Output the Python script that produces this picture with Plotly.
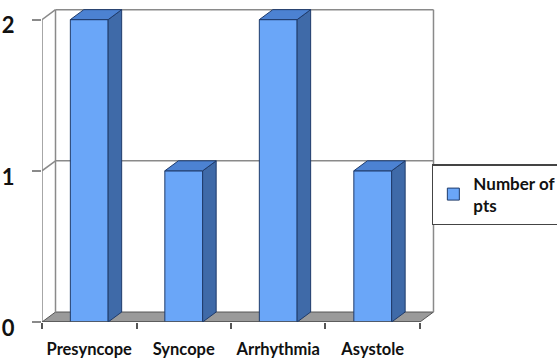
import plotly.graph_objects as go

categories = ["Presyncope", "Syncope", "Arrhythmia", "Asystole"]
values = [2, 1, 2, 1]
series_name = "Number of<br>pts"
y_ticks = [0, 1, 2]

# pseudo-3D depth (axis units) and style
DX = 0.143
DY = 0.066
BW = 0.4
FRONT = "#6aa6f8"
TOP = "#4c82d2"
SIDE = "#3f6aa8"
EDGE = "#1f3b6b"
LINE = "#8a8a8a"
FLOOR = "#9a9a9a"

n = len(categories)
xs = list(range(n))
x0, x1 = -0.5, n - 0.5
ymax = max(y_ticks)

fig = go.Figure()
fig.add_trace(go.Bar(
    x=xs, y=values, width=BW, name=series_name,
    marker=dict(color=FRONT, line=dict(color=EDGE, width=1)),
    showlegend=True,
))

shapes = []
# floor
shapes.append(dict(type="path", layer="below",
                   path=f"M {x0},0 L {x1},0 L {x1+DX},{DY} L {x0+DX},{DY} Z",
                   fillcolor=FLOOR, line=dict(color="#555555", width=1)))
# back wall verticals
for xv in (x0 + DX, x1 + DX):
    shapes.append(dict(type="line", layer="below", x0=xv, x1=xv, y0=DY, y1=ymax + DY,
                       line=dict(color=LINE, width=1.5)))
# gridlines on back wall + connectors
for t in y_ticks[1:]:
    shapes.append(dict(type="line", layer="below", x0=x0 + DX, x1=x1 + DX, y0=t + DY, y1=t + DY,
                       line=dict(color=LINE, width=1.5)))
    shapes.append(dict(type="line", layer="below", x0=x0, x1=x0 + DX, y0=t, y1=t + DY,
                       line=dict(color=LINE, width=1.5)))
# front axes
shapes.append(dict(type="line", layer="below", x0=x0, x1=x0, y0=0, y1=ymax,
                   line=dict(color=LINE, width=1.5)))
shapes.append(dict(type="line", layer="above", x0=x0, x1=x1, y0=0, y1=0,
                   line=dict(color="#555555", width=1.5)))
# bar side and top faces
for i, v in zip(xs, values):
    l, r = i - BW / 2, i + BW / 2
    shapes.append(dict(type="path", layer="above",
                       path=f"M {r},0 L {r+DX},{DY} L {r+DX},{v+DY} L {r},{v} Z",
                       fillcolor=SIDE, line=dict(color=EDGE, width=1)))
    shapes.append(dict(type="path", layer="above",
                       path=f"M {l},{v} L {r},{v} L {r+DX},{v+DY} L {l+DX},{v+DY} Z",
                       fillcolor=TOP, line=dict(color=EDGE, width=1)))

fig.update_layout(
    template="none",
    width=557, height=361,
    margin=dict(l=42, r=0, t=6, b=39, autoexpand=False),
    paper_bgcolor="white", plot_bgcolor="white",
    shapes=shapes,
    showlegend=True,
    legend=dict(xref="paper", yref="paper", x=0.757, y=0.5,
                xanchor="left", yanchor="top",
                bordercolor="#444444", borderwidth=1.5, bgcolor="white",
                font=dict(family="Lato", size=17, color="#111111", weight="bold"),
                itemwidth=30),
    xaxis=dict(range=[x0, 4.95], tickvals=xs, ticktext=categories,
               showgrid=False, zeroline=False, showline=False, ticks="",
               automargin=False,
               ticklabelstandoff=15, ticklabeloverflow="allow",
               tickfont=dict(family="Lato", size=16.5, color="#111111", weight="bold"),
               minor=dict(tickmode="array", tickvals=[k - 0.5 for k in range(n + 1)],
                          ticks="outside", ticklen=6, tickcolor="#555555", tickwidth=1.5,
                          showgrid=False)),
    yaxis=dict(range=[0, ymax + 0.09], tickvals=y_ticks,
               showgrid=False, zeroline=False, showline=False, automargin=False,
               ticks="outside", ticklen=9, tickcolor=LINE, tickwidth=1.5,
               ticklabelstandoff=13, ticklabelshift=6, ticklabeloverflow="allow",
               tickfont=dict(family="Lato", size=22, color="#111111", weight="bold")),
)

fig.write_html("out.html", config={"displayModeBar": False},
               post_script="document.body.style.margin='0';")
